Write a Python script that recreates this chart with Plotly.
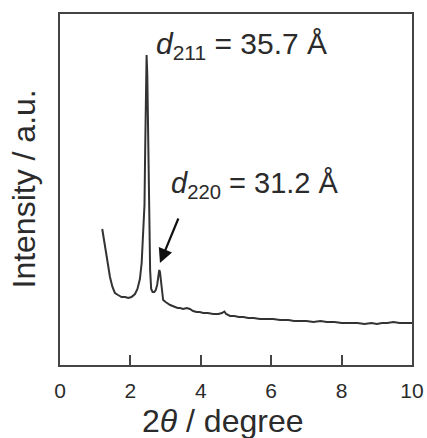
import plotly.graph_objects as go

# XRD pattern (small-angle region)
two_theta = [1.20, 1.24, 1.28, 1.35, 1.42, 1.49, 1.56, 1.65, 1.75, 1.85, 1.94, 2.03,
             2.13, 2.20, 2.27, 2.32, 2.37, 2.40, 2.42, 2.44, 2.46, 2.48, 2.50, 2.53,
             2.56, 2.59, 2.63, 2.68, 2.72, 2.76, 2.80, 2.82, 2.84, 2.87, 2.90, 2.93,
             3.00, 3.07, 3.13, 3.20, 3.27, 3.34, 3.41, 3.50, 3.60, 3.69, 3.78, 3.88,
             3.97, 4.07, 4.20, 4.35, 4.50, 4.60, 4.67, 4.72, 4.83, 4.95, 5.08, 5.21,
             5.35, 5.50, 5.68, 5.85, 6.06, 6.25, 6.49, 6.65, 6.82, 7.00, 7.20, 7.40,
             7.58, 7.80, 8.00, 8.24, 8.45, 8.65, 8.85, 9.00, 9.15, 9.30, 9.47, 9.65,
             9.80, 10.0]
intensity = [136, 127, 118, 103, 88, 78, 72, 70, 68, 68, 67, 68,
             71, 76, 86, 102, 135, 160, 215, 270, 310, 290, 245, 165,
             95, 76, 73, 73, 75, 80, 90, 95, 93, 85, 74, 65,
             63, 61, 60, 59, 58, 57, 57, 56, 57, 56, 54, 53,
             53, 52, 52, 51, 51, 52, 53.5, 51, 49, 49, 48, 48,
             47, 47, 46, 46, 46, 45, 45, 44, 44, 44, 43, 44,
             43, 43, 42, 42, 42, 41, 42, 41, 42, 42, 43, 42,
             42, 42]

x_ticks = [0, 2, 4, 6, 8, 10]

# peak labels: (text, x, y, font size)
peak_211 = ("<i>d</i><sub>211</sub> = 35.7 Å", 2.68, 320, 30)
peak_220 = ("<i>d</i><sub>220</sub> = 31.2 Å", 3.10, 180, 29)
arrow_tip = (2.84, 102)
arrow_tail = (3.38, 148)

FONT = "Liberation Sans, Arial, sans-serif"
INK = "#2b2b2b"

fig = go.Figure()
fig.add_trace(go.Scatter(x=two_theta, y=intensity, mode="lines",
                         line=dict(color="#333333", width=2), showlegend=False))

for text, x, y, size in (peak_211, peak_220):
    fig.add_annotation(x=x, y=y, xref="x", yref="y", text=text, showarrow=False,
                       xanchor="left", yanchor="middle",
                       font=dict(family=FONT, size=size, color=INK))

fig.add_annotation(x=arrow_tip[0], y=arrow_tip[1], ax=arrow_tail[0], ay=arrow_tail[1],
                   xref="x", yref="y", axref="x", ayref="y", text="",
                   showarrow=True, arrowhead=2, arrowsize=1.3, arrowwidth=2.2,
                   arrowcolor="#111111")

# axis titles
fig.add_annotation(x=0.5, y=0, xref="paper", yref="paper", xshift=-14, yshift=-56,
                   text="2<i>θ</i> / degree", showarrow=False,
                   xanchor="center", yanchor="middle",
                   font=dict(family=FONT, size=32, color=INK))
fig.add_annotation(x=0, y=0.5, xref="paper", yref="paper", xshift=-37,
                   text="Intensity / a.u.", showarrow=False, textangle=-90,
                   xanchor="center", yanchor="middle",
                   font=dict(family=FONT, size=32, color=INK))

fig.update_layout(
    width=427, height=438,
    margin=dict(l=60, r=15, t=14, b=73, autoexpand=False),
    paper_bgcolor="white", plot_bgcolor="white",
    font=dict(family=FONT, color=INK),
    xaxis=dict(range=[0, 10], tickvals=x_ticks, ticks="inside", ticklen=10,
               tickwidth=2, tickcolor="#444444", showgrid=False, zeroline=False,
               showline=True, linewidth=2, linecolor="#444444", mirror=True,
               automargin=False, ticklabelstandoff=6,
               tickfont=dict(size=21, color=INK)),
    yaxis=dict(range=[0, 351], showticklabels=False, ticks="", showgrid=False,
               zeroline=False, showline=True, linewidth=2, linecolor="#444444",
               mirror=True, automargin=False),
)

fig.write_html("out.html")
